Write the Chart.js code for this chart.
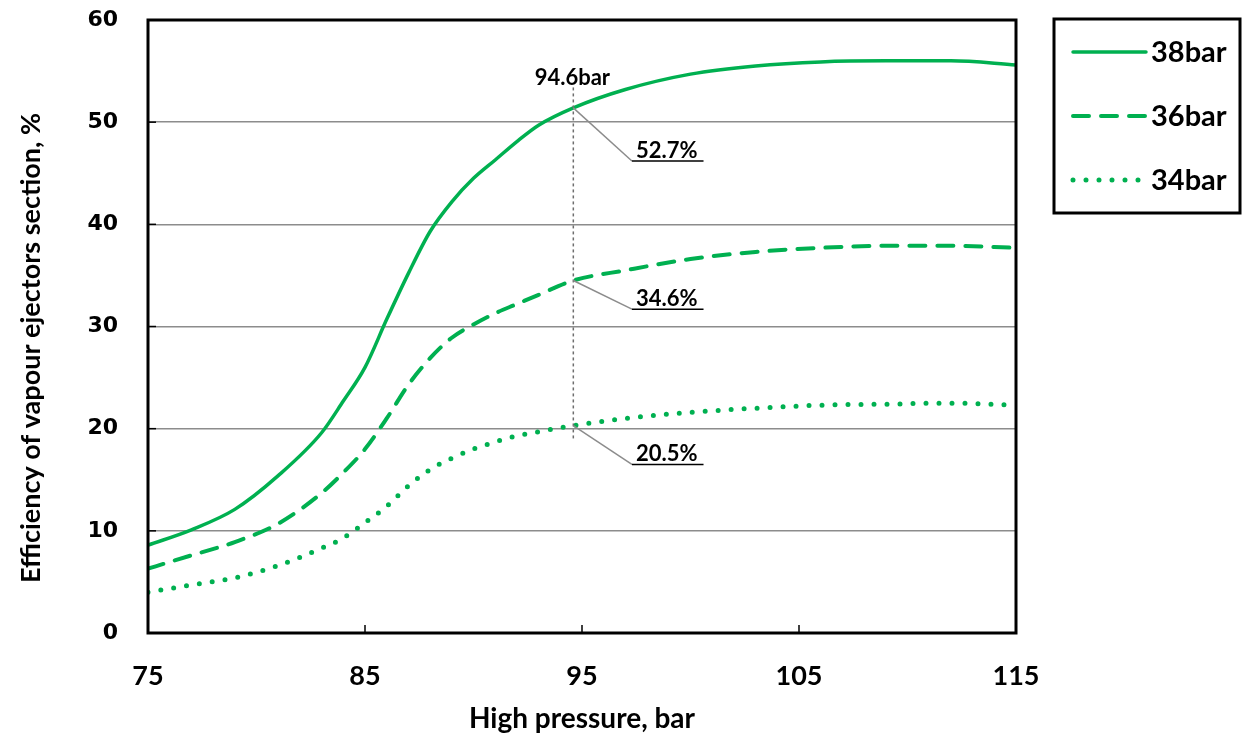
<!DOCTYPE html>
<html>
<head>
<meta charset="utf-8">
<script src="https://cdn.jsdelivr.net/npm/chart.js@4.4.1/dist/chart.umd.min.js"></script>
<style>
  html, body { margin: 0; padding: 0; background: #fff; }
  #wrap { width: 1243px; height: 740px; position: relative; }
</style>
</head>
<body>
<div id="wrap"><canvas id="chart"></canvas></div>
<script>
// high pressure, bar
const pressure = [75, 77, 79, 81, 83, 84, 85, 86, 87, 88, 89, 90, 91, 92, 93, 94.6, 97, 100, 103, 106, 109, 112, 115];
// efficiency of vapour ejectors section, %
const eff38 = [8.6, 10.1, 12.1, 15.4, 19.6, 22.7, 26.0, 30.7, 35.2, 39.3, 42.2, 44.5, 46.3, 48.1, 49.7, 51.4, 53.2, 54.7, 55.5, 55.9, 56.0, 56.0, 55.6];
const eff36 = [6.3, 7.6, 8.9, 10.7, 13.7, 15.7, 18.0, 21.0, 24.3, 26.9, 28.9, 30.2, 31.3, 32.2, 33.1, 34.5, 35.5, 36.6, 37.3, 37.7, 37.9, 37.9, 37.7];
const eff34 = [4.0, 4.7, 5.4, 6.6, 8.3, 9.3, 10.8, 12.4, 14.4, 16.0, 17.1, 18.0, 18.7, 19.3, 19.7, 20.3, 21.0, 21.6, 22.0, 22.3, 22.4, 22.5, 22.3];

const seriesNames = ["38bar", "36bar", "34bar"];
const xTicks = [75, 85, 95, 105, 115];
const yTicks = [0, 10, 20, 30, 40, 50, 60];
const yTitle = "Efficiency of vapour ejectors section, %";

// marker line at 94.6 bar and the values called out on it
const markX = 94.6;
const markLabel = "94.6bar";
const markTop = 53.4;
const markBottom = 18.8;
const calloutText = ["52.7%", "34.6%", "20.5%"];
const calloutPoint = [51.4, 34.5, 20.3];
const calloutElbow = [46.2, 31.7, 16.5];

const green = "#00b050";
const sans = "Lato, 'Open Sans', sans-serif";

function toPoints(ys) {
    return pressure.map((x, i) => ({ x: x, y: ys[i] }));
}

const extras = {
    id: "extras",
    afterDraw(chart) {
        const ctx = chart.ctx;
        const xs = chart.scales.x;
        const ys = chart.scales.y;
        const a = chart.chartArea;
        ctx.save();

        // y axis title (sits a bit below the plot centre in the original)
        ctx.save();
        ctx.translate(31, 348);
        ctx.rotate(-Math.PI / 2);
        ctx.fillStyle = "#000";
        ctx.font = "bold 27px " + sans;
        ctx.textAlign = "center";
        ctx.textBaseline = "middle";
        ctx.fillText(yTitle, 0, 0);
        ctx.restore();

        // inner tick marks
        ctx.strokeStyle = "#000";
        ctx.lineWidth = 1.5;
        yTicks.forEach(v => {
            const py = ys.getPixelForValue(v);
            ctx.beginPath(); ctx.moveTo(a.left, py); ctx.lineTo(a.left + 8, py); ctx.stroke();
        });
        xTicks.forEach(v => {
            const px = xs.getPixelForValue(v);
            ctx.beginPath(); ctx.moveTo(px, a.bottom); ctx.lineTo(px, a.bottom - 8); ctx.stroke();
        });

        // vertical marker
        const mx = xs.getPixelForValue(markX);
        ctx.strokeStyle = "#6e6e6e";
        ctx.lineWidth = 1.5;
        ctx.setLineDash([3, 3]);
        ctx.beginPath();
        ctx.moveTo(mx, ys.getPixelForValue(markTop));
        ctx.lineTo(mx, ys.getPixelForValue(markBottom));
        ctx.stroke();
        ctx.setLineDash([]);

        ctx.fillStyle = "#000";
        ctx.font = "bold 22px " + sans;
        ctx.textAlign = "center";
        ctx.textBaseline = "alphabetic";
        ctx.fillText(markLabel, mx - 1, ys.getPixelForValue(markTop) - 2);

        // callouts
        const elbowX = xs.getPixelForValue(97.3);
        const endX = xs.getPixelForValue(100.6);
        calloutText.forEach((t, i) => {
            const py = ys.getPixelForValue(calloutPoint[i]);
            const ey = ys.getPixelForValue(calloutElbow[i]);
            ctx.strokeStyle = "#8c8c8c";
            ctx.lineWidth = 1.5;
            ctx.beginPath(); ctx.moveTo(mx, py); ctx.lineTo(elbowX, ey); ctx.stroke();
            ctx.strokeStyle = "#000";
            ctx.beginPath(); ctx.moveTo(elbowX, ey); ctx.lineTo(endX, ey); ctx.stroke();
            ctx.fillStyle = "#000";
            ctx.font = "bold 22px " + sans;
            ctx.textAlign = "left";
            ctx.fillText(t, elbowX + 4, ey - 3);
        });

        // frame
        ctx.strokeStyle = "#000";
        ctx.lineWidth = 3;
        ctx.strokeRect(a.left, a.top, a.right - a.left, a.bottom - a.top);

        // legend box
        ctx.lineWidth = 3;
        ctx.strokeRect(1054, 19, 186, 194);
        chart.data.datasets.forEach((ds, i) => {
            const cy = 52 + i * 64;
            ctx.strokeStyle = ds.borderColor;
            ctx.lineWidth = ds.borderWidth;
            ctx.lineCap = ds.borderCapStyle;
            ctx.setLineDash(ds.borderDash);
            ctx.beginPath(); ctx.moveTo(1073, cy); ctx.lineTo(1146, cy); ctx.stroke();
            ctx.setLineDash([]);
            ctx.lineCap = "butt";
            ctx.fillStyle = "#000";
            ctx.font = "bold 29px " + sans;
            ctx.textAlign = "left";
            ctx.textBaseline = "middle";
            ctx.fillText(ds.label, 1151, cy + 1);
        });
        ctx.restore();
    }
};

new Chart(document.getElementById("chart"), {
    type: "line",
    data: {
        datasets: [{
            label: seriesNames[0],
            data: toPoints(eff38),
            borderColor: green,
            borderWidth: 3.5,
            borderDash: [],
            borderCapStyle: "round",
            pointRadius: 0,
            cubicInterpolationMode: "monotone"
        }, {
            label: seriesNames[1],
            data: toPoints(eff36),
            borderColor: green,
            borderWidth: 4,
            borderDash: [16, 12],
            borderCapStyle: "round",
            pointRadius: 0,
            cubicInterpolationMode: "monotone"
        }, {
            label: seriesNames[2],
            data: toPoints(eff34),
            borderColor: green,
            borderWidth: 5,
            borderDash: [0, 13],
            borderCapStyle: "round",
            pointRadius: 0,
            cubicInterpolationMode: "monotone"
        }]
    },
    options: {
        responsive: true,
        maintainAspectRatio: false,
        animation: false,
        layout: { padding: { left: 0, right: 227, top: 20, bottom: 0 } },
        plugins: {
            legend: { display: false },
            tooltip: { enabled: false }
        },
        scales: {
            x: {
                type: "linear",
                min: 75,
                max: 115,
                afterBuildTicks: s => { s.ticks = xTicks.map(v => ({ value: v })); },
                afterFit: s => { s.height = 107; },
                grid: { display: false, drawTicks: false },
                border: { display: false },
                ticks: {
                    color: "#000",
                    padding: 27,
                    font: { family: sans, size: 27, weight: "bold" }
                },
                title: {
                    display: true,
                    text: "High pressure, bar",
                    color: "#000",
                    padding: { top: 12 },
                    font: { family: sans, size: 28, weight: "bold" }
                }
            },
            y: {
                min: 0,
                max: 60,
                afterBuildTicks: s => { s.ticks = yTicks.map(v => ({ value: v })); },
                afterFit: s => { s.width = 148; },
                grid: {
                    drawTicks: true,
                    tickLength: 30,
                    tickColor: "rgba(0,0,0,0)",
                    lineWidth: 1.5,
                    color: c => (c.tick.value === 0 || c.tick.value === 60) ? "rgba(0,0,0,0)" : "#8c8c8c"
                },
                border: { display: false },
                ticks: {
                    color: "#000",
                    padding: 0,
                    font: { family: "'DejaVu Sans', Verdana, sans-serif", size: 22, weight: "bold" }
                },
                title: { display: false }
            }
        }
    },
    plugins: [extras]
});
</script>
</body>
</html>
